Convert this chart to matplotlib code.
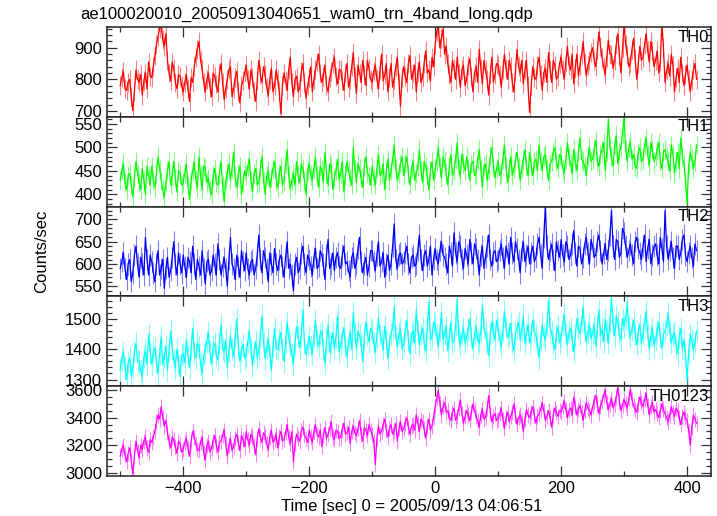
import numpy as np
import matplotlib
matplotlib.use("Agg")
import matplotlib.pyplot as plt
from matplotlib.ticker import MultipleLocator

plt.rcParams['font.family'] = ['Liberation Sans', 'DejaVu Sans']

title = "ae100020010_20050913040651_wam0_trn_4band_long.qdp"
xlabel = "Time [sec] 0 = 2005/09/13 04:06:51"
ylabel = "Counts/sec"

time_start = -500.0
time_stop = 415.0
time_step = 2.5
time = np.arange(time_start, time_stop + 0.1, time_step)

band_names = ["TH0", "TH1", "TH2", "TH3", "TH0123"]

th0 = [
    780, 805, 825, 770, 765, 790, 800, 745, 700, 760, 830, 800, 790, 815, 750, 795, 820, 770, 855, 810,
    805, 840, 875, 910, 935, 960, 980, 925, 905, 945, 860, 820, 795, 855, 835, 790, 770, 815, 810, 780,
    760, 790, 815, 770, 730, 805, 790, 840, 870, 895, 920, 860, 835, 790, 760, 800, 820, 775, 745, 820,
    810, 785, 760, 820, 850, 790, 735, 770, 800, 830, 840, 745, 770, 805, 825, 760, 725, 780, 795, 820,
    845, 800, 770, 830, 805, 760, 730, 795, 860, 815, 790, 840, 815, 775, 750, 800, 835, 760, 780, 830,
    800, 760, 690, 780, 820, 795, 765, 830, 870, 790, 745, 800, 810, 760, 775, 825, 850, 790, 740, 780,
    805, 840, 760, 800, 830, 855, 880, 820, 790, 810, 845, 780, 760, 805, 825, 850, 870, 810, 785, 830,
    830, 795, 765, 820, 850, 775, 800, 840, 885, 810, 755, 845, 820, 790, 860, 815, 780, 860, 835, 800,
    790, 825, 845, 800, 770, 830, 880, 795, 815, 850, 760, 805, 850, 775, 800, 840, 870, 790, 715, 805,
    840, 810, 790, 850, 875, 800, 820, 845, 760, 825, 855, 790, 805, 850, 890, 820, 830, 795, 870, 840,
    910, 950, 975, 900, 930, 960, 880, 905, 850, 815, 790, 860, 835, 800, 870, 820, 775, 830, 845, 780,
    800, 845, 865, 810, 760, 820, 840, 790, 895, 835, 785, 860, 830, 800, 750, 815, 870, 790, 815, 850,
    845, 815, 775, 830, 880, 835, 800, 860, 840, 790, 760, 825, 895, 840, 820, 860, 785, 830, 860, 780,
    695, 780, 840, 805, 800, 845, 870, 815, 765, 820, 835, 790, 885, 830, 790, 860, 845, 800, 810, 850,
    870, 830, 800, 855, 905, 845, 830, 880, 785, 835, 880, 810, 845, 880, 920, 855, 810, 845, 860, 885,
    900, 860, 840, 890, 950, 905, 870, 840, 815, 870, 925, 880, 880, 835, 860, 910, 945, 875, 820, 900,
    975, 910, 880, 840, 850, 895, 930, 865, 800, 850, 905, 860, 870, 910, 945, 890, 855, 920, 890, 840,
    860, 890, 820, 855, 975, 900, 790, 830, 850, 810, 880, 845, 760, 805, 835, 790, 870, 820, 780, 815,
    845, 800, 760, 795, 830, 850, 800,
]

th1 = [
    430, 450, 465, 425, 410, 440, 445, 420, 395, 435, 470, 445, 425, 410, 455, 430, 400, 460, 440, 420,
    460, 430, 415, 445, 480, 455, 430, 410, 395, 425, 450, 470, 420, 440, 470, 435, 405, 450, 445, 420,
    425, 445, 465, 420, 390, 430, 450, 470, 430, 415, 480, 440, 410, 460, 455, 425, 435, 410, 400, 440,
    455, 425, 420, 445, 470, 420, 385, 430, 445, 465, 430, 455, 490, 435, 415, 445, 460, 400, 425, 450,
    440, 460, 475, 430, 405, 445, 455, 420, 425, 455, 480, 430, 400, 440, 450, 415, 435, 455, 470, 430,
    415, 445, 460, 420, 430, 465, 495, 440, 410, 430, 445, 420, 470, 440, 425, 465, 455, 430, 400, 450,
    465, 440, 430, 455, 480, 440, 415, 460, 450, 425, 490, 445, 420, 465, 460, 410, 435, 450, 475, 430,
    445, 470, 405, 440, 470, 450, 435, 420, 500, 455, 425, 465, 455, 435, 415, 460, 480, 445, 440, 420,
    460, 435, 420, 455, 485, 440, 445, 465, 410, 450, 475, 430, 450, 475, 505, 455, 430, 445, 465, 480,
    440, 465, 480, 445, 420, 455, 470, 430, 445, 460, 495, 450, 425, 470, 460, 440, 410, 450, 470, 430,
    455, 470, 500, 460, 435, 480, 470, 445, 420, 460, 485, 440, 450, 475, 510, 455, 440, 485, 465, 450,
    480, 455, 430, 465, 470, 440, 445, 475, 495, 455, 415, 460, 465, 430, 450, 480, 500, 460, 435, 455,
    470, 440, 445, 475, 505, 460, 425, 455, 480, 440, 455, 470, 490, 460, 430, 455, 475, 495, 460, 440,
    490, 460, 440, 470, 475, 450, 505, 470, 450, 480, 485, 455, 430, 465, 470, 490, 500, 470, 455, 485,
    480, 455, 445, 475, 510, 480, 465, 445, 495, 470, 450, 490, 520, 475, 470, 460, 440, 480, 500, 470,
    475, 495, 515, 470, 460, 485, 495, 510, 450, 490, 560, 500, 480, 460, 505, 525, 465, 490, 500, 530,
    565, 495, 470, 500, 510, 475, 485, 460, 455, 490, 500, 470, 475, 505, 520, 485, 460, 510, 495, 470,
    480, 495, 510, 470, 455, 490, 495, 480, 470, 450, 505, 485, 445, 470, 490, 455, 520, 480, 465, 430,
    380, 460, 490, 475, 455, 470, 505,
]

th2 = [
    590, 605, 625, 590, 565, 600, 610, 560, 580, 620, 640, 600, 570, 615, 600, 575, 660, 610, 575, 620,
    605, 580, 560, 600, 630, 575, 590, 610, 545, 590, 615, 570, 585, 615, 650, 600, 575, 625, 600, 580,
    620, 595, 570, 615, 605, 580, 640, 600, 565, 610, 595, 575, 630, 590, 555, 605, 610, 575, 585, 620,
    600, 575, 645, 610, 575, 595, 615, 590, 550, 610, 660, 600, 590, 565, 620, 595, 570, 630, 605, 585,
    625, 590, 575, 605, 610, 575, 590, 620, 665, 610, 580, 630, 615, 590, 560, 625, 600, 580, 635, 600,
    585, 610, 620, 595, 570, 615, 650, 590, 600, 575, 540, 600, 615, 580, 590, 625, 640, 600, 580, 620,
    610, 595, 575, 615, 635, 590, 595, 630, 620, 600, 565, 620, 655, 590, 600, 625, 585, 615, 625, 595,
    590, 620, 640, 600, 605, 585, 570, 615, 625, 590, 600, 635, 660, 605, 580, 600, 615, 575, 595, 630,
    630, 605, 585, 620, 650, 595, 605, 625, 570, 600, 620, 585, 600, 640, 690, 610, 590, 620, 625, 600,
    605, 625, 640, 600, 580, 615, 620, 595, 600, 630, 665, 610, 585, 620, 630, 595, 610, 640, 575, 610,
    635, 610, 600, 630, 650, 620, 615, 600, 580, 640, 625, 595, 670, 625, 605, 650, 640, 610, 590, 635,
    620, 600, 655, 625, 600, 645, 635, 610, 575, 620, 640, 590, 615, 640, 665, 610, 595, 625, 630, 605,
    610, 630, 645, 615, 590, 640, 625, 600, 660, 625, 605, 650, 635, 610, 580, 630, 650, 605, 620, 640,
    600, 625, 640, 605, 615, 645, 660, 620, 590, 660, 730, 640, 610, 630, 645, 610, 585, 650, 630, 615,
    655, 620, 605, 650, 640, 610, 620, 645, 675, 625, 595, 640, 635, 600, 615, 645, 660, 625, 600, 655,
    640, 615, 620, 650, 665, 630, 600, 625, 645, 610, 630, 665, 720, 640, 610, 655, 650, 615, 625, 680,
    670, 640, 615, 630, 645, 620, 600, 650, 660, 635, 625, 610, 640, 665, 605, 635, 655, 600, 620, 640,
    645, 620, 600, 660, 635, 605, 720, 640, 610, 630, 650, 615, 590, 640, 640, 610, 625, 655, 665, 620,
    605, 625, 640, 615, 595, 645, 630,
]

th3 = [
    1330, 1370, 1390, 1340, 1300, 1355, 1370, 1310, 1340, 1390, 1420, 1360, 1360, 1330, 1310, 1375, 1395, 1350, 1450, 1390,
    1350, 1390, 1405, 1360, 1320, 1385, 1440, 1350, 1375, 1410, 1330, 1395, 1460, 1400, 1365, 1340, 1400, 1360, 1310, 1380,
    1385, 1355, 1430, 1380, 1340, 1400, 1470, 1390, 1370, 1420, 1410, 1350, 1320, 1380, 1395, 1425, 1455, 1390, 1350, 1410,
    1420, 1380, 1365, 1420, 1480, 1400, 1390, 1430, 1340, 1395, 1445, 1400, 1375, 1440, 1500, 1410, 1360, 1395, 1415, 1370,
    1380, 1425, 1460, 1400, 1345, 1390, 1425, 1370, 1395, 1440, 1510, 1420, 1370, 1405, 1435, 1380, 1330, 1410, 1470, 1400,
    1400, 1430, 1455, 1400, 1360, 1420, 1490, 1435, 1415, 1385, 1350, 1420, 1475, 1440, 1405, 1450, 1530, 1420, 1380, 1410,
    1440, 1410, 1385, 1445, 1495, 1430, 1410, 1450, 1460, 1400, 1355, 1425, 1480, 1390, 1420, 1455, 1400, 1440, 1510, 1390,
    1415, 1440, 1470, 1410, 1375, 1430, 1455, 1400, 1520, 1450, 1400, 1460, 1445, 1420, 1360, 1435, 1490, 1450, 1425, 1470,
    1460, 1420, 1390, 1445, 1505, 1450, 1430, 1400, 1475, 1430, 1370, 1420, 1450, 1470, 1540, 1440, 1410, 1450, 1465, 1400,
    1420, 1460, 1495, 1430, 1385, 1450, 1460, 1420, 1530, 1460, 1415, 1450, 1470, 1420, 1395, 1470, 1555, 1430, 1440, 1490,
    1480, 1445, 1410, 1460, 1520, 1430, 1450, 1475, 1395, 1440, 1490, 1420, 1430, 1480, 1565, 1440, 1415, 1450, 1470, 1420,
    1440, 1465, 1500, 1440, 1400, 1450, 1475, 1430, 1420, 1460, 1545, 1470, 1455, 1420, 1380, 1450, 1490, 1460, 1430, 1495,
    1465, 1430, 1410, 1460, 1525, 1470, 1440, 1450, 1485, 1420, 1395, 1450, 1470, 1490, 1430, 1465, 1510, 1420, 1450, 1480,
    1420, 1450, 1495, 1460, 1445, 1420, 1370, 1430, 1480, 1445, 1430, 1480, 1560, 1470, 1455, 1420, 1400, 1445, 1475, 1420,
    1440, 1480, 1515, 1450, 1415, 1455, 1470, 1430, 1390, 1445, 1500, 1470, 1450, 1490, 1540, 1460, 1425, 1455, 1480, 1435,
    1455, 1480, 1410, 1470, 1530, 1445, 1465, 1425, 1500, 1460, 1420, 1490, 1570, 1480, 1445, 1510, 1490, 1450, 1430, 1500,
    1475, 1500, 1555, 1470, 1440, 1465, 1495, 1450, 1415, 1455, 1480, 1420, 1450, 1490, 1525, 1450, 1400, 1445, 1470, 1410,
    1435, 1460, 1490, 1440, 1405, 1450, 1460, 1480, 1520, 1460, 1420, 1445, 1455, 1410, 1385, 1440, 1470, 1400, 1430, 1380,
    1300, 1390, 1450, 1430, 1400, 1420, 1460,
]

th0123 = [
    3120, 3170, 3200, 3130, 3080, 3140, 3180, 3090, 2990, 3120, 3230, 3160, 3110, 3200, 3170, 3230, 3260, 3180, 3150, 3240,
    3220, 3260, 3300, 3370, 3420, 3390, 3480, 3400, 3340, 3380, 3290, 3230, 3180, 3260, 3240, 3190, 3140, 3230, 3210, 3150,
    3170, 3220, 3250, 3180, 3120, 3230, 3300, 3260, 3210, 3170, 3160, 3220, 3260, 3150, 3090, 3200, 3230, 3150, 3180, 3230,
    3270, 3200, 3150, 3220, 3230, 3270, 3310, 3210, 3120, 3200, 3250, 3160, 3190, 3250, 3280, 3220, 3160, 3270, 3240, 3190,
    3300, 3240, 3200, 3280, 3260, 3200, 3130, 3250, 3320, 3260, 3220, 3290, 3270, 3210, 3170, 3260, 3310, 3220, 3240, 3280,
    3180, 3260, 3300, 3230, 3240, 3290, 3350, 3260, 3210, 3300, 3080, 3210, 3280, 3250, 3230, 3310, 3330, 3270, 3250, 3220,
    3310, 3260, 3220, 3300, 3350, 3280, 3260, 3310, 3190, 3270, 3330, 3250, 3280, 3320, 3370, 3260, 3240, 3310, 3300, 3250,
    3260, 3310, 3360, 3280, 3290, 3330, 3210, 3300, 3340, 3290, 3270, 3320, 3380, 3280, 3230, 3330, 3310, 3270, 3350, 3310,
    3280, 3230, 3060, 3250, 3340, 3280, 3300, 3350, 3390, 3310, 3260, 3320, 3350, 3280, 3310, 3360, 3230, 3320, 3370, 3300,
    3320, 3360, 3400, 3330, 3280, 3340, 3350, 3310, 3420, 3360, 3300, 3390, 3370, 3320, 3250, 3340, 3390, 3310, 3340, 3400,
    3480, 3540, 3600, 3500, 3420, 3480, 3510, 3440, 3450, 3400, 3380, 3440, 3470, 3380, 3410, 3470, 3530, 3430, 3360, 3410,
    3450, 3420, 3380, 3440, 3500, 3450, 3410, 3380, 3330, 3420, 3460, 3390, 3400, 3470, 3560, 3440, 3370, 3410, 3430, 3380,
    3390, 3430, 3470, 3390, 3320, 3400, 3440, 3370, 3410, 3440, 3500, 3420, 3350, 3400, 3420, 3380, 3300, 3390, 3460, 3420,
    3400, 3440, 3480, 3420, 3360, 3410, 3430, 3460, 3510, 3450, 3380, 3410, 3450, 3400, 3330, 3420, 3470, 3440, 3410, 3450,
    3440, 3480, 3520, 3460, 3400, 3450, 3470, 3420, 3550, 3480, 3420, 3460, 3490, 3440, 3380, 3450, 3510, 3470, 3450, 3420,
    3480, 3520, 3560, 3500, 3430, 3480, 3520, 3560, 3600, 3510, 3460, 3500, 3540, 3470, 3500, 3550, 3620, 3520, 3450, 3490,
    3530, 3500, 3470, 3540, 3610, 3530, 3490, 3460, 3440, 3500, 3550, 3510, 3480, 3530, 3580, 3490, 3420, 3480, 3510, 3440,
    3460, 3430, 3400, 3450, 3500, 3460, 3430, 3400, 3370, 3420, 3480, 3440, 3410, 3470, 3450, 3400, 3350, 3410, 3440, 3400,
    3380, 3310, 3200, 3330, 3420, 3390, 3360,
]

# typical 1-sigma error per band (counts/sec), read from the light error-bar shading
errors = [30, 20, 24, 37, 55]

series = [th0, th1, th2, th3, th0123]
colors = ["#ff0000", "#00ff00", "#0000ff", "#00ffff", "#ff00ff"]
ylims = [(681, 966), (374, 565), (527, 729), (1278, 1574), (2976, 3629)]
ymajor = [100, 50, 50, 100, 200]
yminor = [20, 10, 10, 20, 50]

fig = plt.figure(figsize=(7.17, 5.16), dpi=100)
left, right = 107 / 717, 711 / 717
top, bottom = 1 - 27 / 516, 1 - 476 / 516
h = (top - bottom) / 5

for i in range(5):
    ax = fig.add_axes([left, top - (i + 1) * h, right - left, h])
    n = min(len(time), len(series[i]))
    t = time[:n]
    y = np.asarray(series[i][:n], dtype=float)
    ax.vlines(t, y - errors[i], y + errors[i], color=colors[i], lw=0.8, alpha=0.5)
    ax.plot(t, y, color=colors[i], lw=0.9)
    ax.set_xlim(-521, 438)
    ax.set_ylim(*ylims[i])
    ax.xaxis.set_major_locator(MultipleLocator(200))
    ax.xaxis.set_minor_locator(MultipleLocator(100))
    ax.yaxis.set_major_locator(MultipleLocator(ymajor[i]))
    ax.yaxis.set_minor_locator(MultipleLocator(yminor[i]))
    ax.tick_params(which='both', direction='in', top=True, right=True,
                   labelsize=12, width=0.9, color='#333333')
    ax.tick_params(which='major', length=7)
    ax.tick_params(which='minor', length=3.5)
    for s in ax.spines.values():
        s.set_linewidth(1.1)
        s.set_color('#222222')
    if i < 4:
        ax.tick_params(labelbottom=False)
    ax.text(0.997, 0.97, band_names[i], transform=ax.transAxes,
            ha='right', va='top', fontsize=12)

fig.text(80 / 717, 1 - 14 / 516, title, ha='left', va='center', fontsize=12)
fig.text(42 / 717, 1 - 251 / 516, ylabel, rotation=90, ha='center', va='center', fontsize=12)
fig.text(412 / 717, 1 - 507 / 516, xlabel, ha='center', va='center', fontsize=12)

fig.savefig("out.png", dpi=100)
